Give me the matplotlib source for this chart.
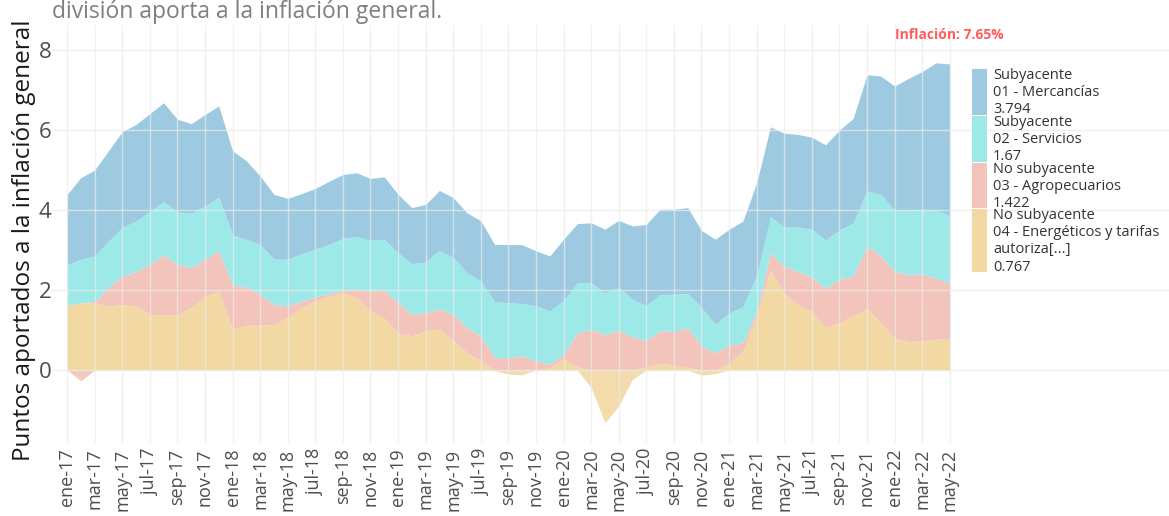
import numpy as np
import matplotlib
matplotlib.use("Agg")
import matplotlib.pyplot as plt
from matplotlib.patches import Rectangle

plt.rcParams["font.family"] = ["Open Sans", "DejaVu Sans"]

# months ene-17 .. may-22
mes_abr = ["ene", "feb", "mar", "abr", "may", "jun", "jul", "ago", "sep", "oct", "nov", "dic"]
meses = [f"{mes_abr[m]}-{y}" for y in range(17, 23) for m in range(12)][:65]

energeticos = [1.62, 1.68, 1.68, 1.60, 1.64, 1.60, 1.39, 1.37, 1.39, 1.56, 1.85, 1.96,
               1.02, 1.12, 1.12, 1.14, 1.31, 1.56, 1.74, 1.85, 1.93, 1.81, 1.48, 1.29,
               0.93, 0.85, 0.99, 1.02, 0.74, 0.43, 0.23, -0.02, -0.10, -0.12, 0.00, 0.05,
               0.27, 0.08, -0.44, -1.32, -0.90, -0.23, 0.08, 0.16, 0.13, 0.06, -0.13, -0.09,
               0.17, 0.45, 1.37, 2.48, 1.92, 1.63, 1.46, 1.07, 1.18, 1.35, 1.54, 1.17,
               0.79, 0.71, 0.73, 0.77, 0.767]
agropecuarios = [0.00, -0.27, 0.04, 0.46, 0.71, 0.86, 1.25, 1.51, 1.25, 1.00, 0.92, 1.02,
                 1.10, 0.96, 0.77, 0.50, 0.29, 0.16, 0.09, 0.06, 0.06, 0.21, 0.50, 0.70,
                 0.75, 0.54, 0.44, 0.51, 0.65, 0.63, 0.62, 0.31, 0.31, 0.35, 0.23, 0.10,
                 0.12, 0.85, 1.02, 0.89, 0.99, 0.83, 0.65, 0.82, 0.83, 1.00, 0.60, 0.43,
                 0.45, 0.23, 0.10, 0.45, 0.68, 0.83, 0.87, 0.97, 1.09, 1.00, 1.56, 1.68,
                 1.67, 1.67, 1.67, 1.52, 1.422]
servicios = [1.00, 1.09, 1.13, 1.16, 1.21, 1.26, 1.32, 1.33, 1.31, 1.36, 1.33, 1.34,
             1.25, 1.19, 1.25, 1.13, 1.17, 1.19, 1.19, 1.23, 1.30, 1.32, 1.26, 1.28,
             1.25, 1.27, 1.27, 1.46, 1.42, 1.37, 1.38, 1.40, 1.37, 1.31, 1.37, 1.33,
             1.34, 1.25, 1.16, 1.04, 1.07, 0.94, 0.87, 0.91, 0.93, 0.85, 0.96, 0.71,
             0.80, 0.90, 0.88, 0.90, 0.98, 1.11, 1.19, 1.21, 1.23, 1.32, 1.38, 1.53,
             1.54, 1.62, 1.62, 1.71, 1.67]
mercancias = [1.77, 2.04, 2.15, 2.26, 2.40, 2.42, 2.45, 2.47, 2.32, 2.24, 2.29, 2.28,
              2.11, 1.96, 1.71, 1.62, 1.52, 1.50, 1.52, 1.58, 1.60, 1.59, 1.55, 1.56,
              1.46, 1.40, 1.44, 1.50, 1.50, 1.50, 1.50, 1.43, 1.46, 1.47, 1.38, 1.37,
              1.54, 1.48, 1.50, 1.59, 1.68, 1.83, 2.04, 2.13, 2.13, 2.15, 1.93, 2.13,
              2.10, 2.14, 2.33, 2.25, 2.34, 2.32, 2.30, 2.38, 2.50, 2.62, 2.90, 2.97,
              3.10, 3.29, 3.44, 3.68, 3.794]

nombres = ["Subyacente\n01 - Mercancías",
           "Subyacente\n02 - Servicios",
           "No subyacente\n03 - Agropecuarios",
           "No subyacente\n04 - Energéticos y tarifas\nautoriza[...]"]
colores = ["#9ecae1", "#9de9e8", "#f2c4bc", "#f2d8a3"]

# stacking order bottom -> top
series = [mercancias, servicios, agropecuarios, energeticos]
stack_order = [3, 2, 1, 0]

x = np.arange(len(meses))
fig = plt.figure(figsize=(11.69, 5.16), dpi=100)
ax = fig.add_axes([0.0445, 0.1415, 0.9555, 0.81])

base_pos = np.zeros(len(x))
base_neg = np.zeros(len(x))
neg_layers = []
for k in stack_order:
    v = np.array(series[k])
    pos = np.clip(v, 0, None)
    neg = np.clip(v, None, 0)
    ax.fill_between(x, base_pos, base_pos + pos, color=colores[k], lw=0, zorder=1)
    base_pos = base_pos + pos
    if neg.min() < 0:
        neg_layers.append((k, base_neg.copy(), base_neg + neg))
    base_neg = base_neg + neg
for k, b0, b1 in neg_layers:
    ax.fill_between(x, b0, b1, color=colores[k], lw=0, zorder=2, alpha=0.9)

total = sum(s[-1] for s in series)
ax.annotate(f"Inflación: {total:.2f}%", xy=(x[-1], total), xytext=(0, 21),
            textcoords="offset points", ha="center", va="center",
            color="#ff5c5c", fontsize=10, fontweight="bold")

ax.set_xlim(-1.09, 79.9)
ax.set_ylim(-1.825, 8.625)
ax.set_yticks([0, 2, 4, 6, 8])
ax.set_xticks(x[::2])
ax.set_xticklabels(meses[::2], rotation=90, fontsize=13, color="#4d4d4d")
ax.tick_params(axis="y", labelsize=16, colors="#4d4d4d", length=0, pad=0.5)
ax.tick_params(axis="x", length=0, pad=4)
ax.grid(True, color="#ebebeb", lw=1.0, alpha=0.7, zorder=3)
ax.set_axisbelow(False)
for s in ax.spines.values():
    s.set_visible(False)

ax.set_ylabel("Puntos aportados a la inflación general", fontsize=17.5,
              color="#1a1a1a")
ax.yaxis.set_label_coords(-0.0145, 0.486)

fig.text(0.0445, 1 - 18 / 516, "división aporta a la inflación general.",
         fontsize=16.5, color="#7f7f7f", va="baseline", ha="left")

# legend drawn by hand
W, H = 1169, 516
patch_rows = [(69, 115), (116, 162), (163, 208), (209, 272)]
for k, (y0, y1) in enumerate(patch_rows):
    fig.add_artist(Rectangle((972 / W, 1 - y1 / H), 15 / W, (y1 - y0) / H,
                             transform=fig.transFigure, color=colores[k], lw=0))
    label = f"{nombres[k]}\n{series[k][-1]:g}"
    fig.text(993 / W, 1 - (y0 - 1) / H, label, fontsize=10.5, color="#333333",
             ha="left", va="top", linespacing=1.2)

fig.savefig("out.png", dpi=100)
